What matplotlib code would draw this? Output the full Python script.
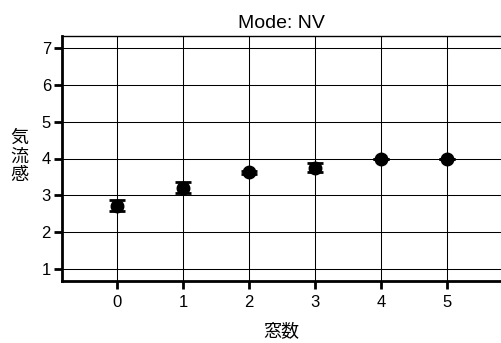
import matplotlib.pyplot as plt

plt.rcParams['font.family'] = ['Liberation Sans', 'Noto Sans CJK JP', 'DejaVu Sans']

# window count vs airflow sensation (mean and error)
windows = [0, 1, 2, 3, 4, 5]
airflow = [2.71, 3.21, 3.62, 3.75, 4.0, 4.0]
airflow_err = [0.15, 0.15, 0.04, 0.13, 0.0, 0.0]
y_ticks = [1, 2, 3, 4, 5, 6, 7]

fig = plt.figure(figsize=(5.01, 3.43), dpi=100)
ax = fig.add_axes([62/501, 1 - 281/343, 1 - 62/501, (281 - 36)/343])

# grid lines
ax.grid(True, color='black', lw=0.75)
ax.set_axisbelow(True)

ax.errorbar(windows, airflow, yerr=airflow_err, fmt='o', color='black',
            markersize=9, capsize=6, elinewidth=1.5, capthick=2)

ax.set_xlim(-0.833, 5.82)
ax.set_ylim(0.67, 7.33)
ax.set_xticks(windows)
ax.set_yticks(y_ticks)

ax.spines['right'].set_visible(False)
ax.spines['top'].set_linewidth(1.0)
ax.spines['left'].set_linewidth(2.0)
ax.spines['bottom'].set_linewidth(2.0)
ax.tick_params(axis='both', direction='out', length=6, width=2, labelsize=12, pad=2)
ax.tick_params(axis='x', pad=4)

ax.set_title('Mode: NV', fontsize=14, pad=6)
fig.text(281/501, 1 - 332/343, '窓数', fontsize=13, ha='center', va='center')
fig.text(19/501, 1 - 157/343, '気\n流\n感', fontsize=13, ha='center', va='center',
         linespacing=1.1)

fig.savefig('out.png', dpi=100)
